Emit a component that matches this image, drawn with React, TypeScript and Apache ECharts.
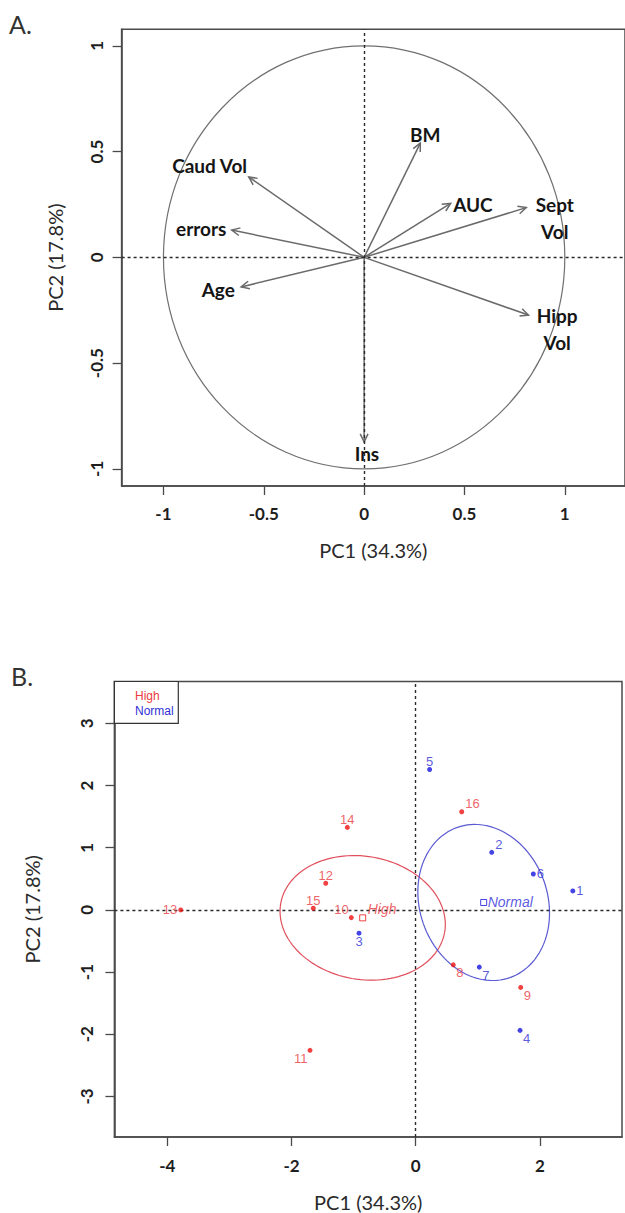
import React, { useEffect, useRef } from "react";
import * as echarts from "echarts";

// ---------- Panel A: variable loadings ----------
const varNames = ["BM", "Caud Vol", "AUC", "Sept\nVol", "errors", "Age", "Hipp\nVol", "Ins"];
const loadPC1 = [0.28, -0.575, 0.431, 0.808, -0.66, -0.613, 0.819, 0.0];
const loadPC2 = [0.54, 0.38, 0.255, 0.235, 0.129, -0.14, -0.273, -0.873];
const labelPC1 = [0.304, -0.77, 0.542, 0.95, -0.812, -0.727, 0.962, 0.014];
const labelPC2 = [0.583, 0.436, 0.252, 0.186, 0.134, -0.15, -0.339, -0.925];
const loadTicks = [-1, -0.5, 0, 0.5, 1];

// ---------- Panel B: sample scores ----------
const sampleIds = ["1", "2", "3", "4", "5", "6", "7", "8", "9", "10", "11", "12", "13", "14", "15", "16"];
const scorePC1 = [2.53, 1.224, -0.913, 1.68, 0.224, 1.894, 1.024, 0.605, 1.691, -1.037, -1.702, -1.449, -3.784, -1.101, -1.649, 0.741];
const scorePC2 = [0.305, 0.926, -0.374, -1.937, 2.258, 0.578, -0.92, -0.883, -1.247, -0.124, -2.258, 0.429, 0.0, 1.327, 0.027, 1.578];
const sampleGroup = ["Normal", "Normal", "Normal", "Normal", "Normal", "Normal", "Normal", "High", "High", "High", "High", "High", "High", "High", "High", "High"];
const labelDir = ["r", "tr", "b", "br", "t", "r", "br", "br", "br", "tl", "bl", "t", "l", "t", "t", "tr"];
const groups = ["High", "Normal"];
const ellipseA = [1.34, 1.28];
const ellipseB = [0.99, 1.03];
const ellipseAngle = [-10, -70.7];
const scoreTicksX = [-4, -2, 0, 2];
const scoreTicksY = [-3, -2, -1, 0, 1, 2, 3];

const groupDot: Record<string, string> = { High: "#ee1111", Normal: "#1414e0" };
const groupText: Record<string, string> = { High: "#ea3a3f", Normal: "#3030d6" };
const groupEllipse: Record<string, string> = { High: "#e0505c", Normal: "#5a5ad2" };

const LABEL_FONT = "Lato";
const PT_FONT = "Liberation Sans";

function dirLabel(d: string) {
  const m: Record<string, [string, number, number]> = {
    t: ["center", 0, -8],
    b: ["center", 0, 8],
    r: ["left", 3.5, 0],
    l: ["right", -3.5, 0],
    tr: ["left", 3.5, -8],
    tl: ["right", -2.5, -8],
    br: ["left", 3, 8],
    bl: ["right", -2.5, 8],
  };
  const [align, dx, dy] = m[d];
  return { align, offset: [dx, dy] };
}

function mean(a: number[]) {
  return a.reduce((s, v) => s + v, 0) / a.length;
}

export default function App() {
  const ref = useRef<HTMLDivElement>(null);
  useEffect(() => {
    if (!ref.current) return;
    const chart = echarts.init(ref.current, null, { renderer: "svg" });

    const axisCommon = {
      axisLine: { show: true, onZero: false, lineStyle: { color: "#4a4a4a", width: 1.5 } },
      axisTick: { show: true, length: 9, lineStyle: { color: "#4a4a4a", width: 1.3 } },
      splitLine: { show: false },
      nameTextStyle: { fontFamily: LABEL_FONT, fontSize: 20, color: "#2a2a2a" },
    };
    const tickLabel = { fontFamily: LABEL_FONT, fontWeight: "bold", fontSize: 17, color: "#1e1e1e" };

    const dotted = {
      silent: true,
      symbol: "none",
      label: { show: false },
      lineStyle: { type: [3, 3], color: "#2a2a2a", width: 1.4 },
      data: [{ xAxis: 0 }, { yAxis: 0 }],
    };

    // group summaries
    const centers = groups.map((g) => {
      const idx = sampleIds.map((_, i) => i).filter((i) => sampleGroup[i] === g);
      return [mean(idx.map((i) => scorePC1[i])), mean(idx.map((i) => scorePC2[i]))];
    });

    const scatterSeries = groups.map((g) => ({
      type: "scatter",
      name: g,
      xAxisIndex: 1,
      yAxisIndex: 1,
      symbol: "circle",
      symbolSize: 5,
      itemStyle: { color: groupDot[g] },
      z: 5,
      data: sampleIds
        .map((id, i) => ({ id, i }))
        .filter((o) => sampleGroup[o.i] === g)
        .map((o) => {
          const dl = dirLabel(labelDir[o.i]);
          return {
            value: [scorePC1[o.i], scorePC2[o.i]],
            label: {
              show: true,
              formatter: o.id,
              position: "inside",
              align: dl.align,
              verticalAlign: "middle",
              offset: dl.offset,
              fontFamily: PT_FONT,
              fontSize: 13,
              color: groupText[g],
            },
          };
        }),
    }));

    const option: any = {
      animation: false,
      backgroundColor: "#ffffff",
      grid: [
        { left: 121.6, top: 29.3, width: 528, height: 456.7, show: true, borderColor: "#4a4a4a", borderWidth: 1.5, backgroundColor: "transparent" },
        { left: 114.4, top: 681.5, width: 507.6, height: 456.2, show: true, borderColor: "#4a4a4a", borderWidth: 1.5, backgroundColor: "transparent" },
      ],
      xAxis: [
        {
          ...axisCommon,
          type: "value",
          gridIndex: 0,
          min: -1.2086,
          max: 1.3,
          axisTick: { ...axisCommon.axisTick, customValues: loadTicks },
          axisLabel: { ...tickLabel, margin: 19, customValues: loadTicks, formatter: (v: number) => String(v) },
          name: "PC1 (34.3%)",
          nameLocation: "middle",
          nameGap: 54,
        },
        {
          ...axisCommon,
          type: "value",
          gridIndex: 1,
          min: -4.852,
          max: 3.322,
          axisTick: { ...axisCommon.axisTick, customValues: scoreTicksX },
          axisLabel: { ...tickLabel, margin: 20, customValues: scoreTicksX, formatter: (v: number) => String(v) },
          name: "PC1 (34.3%)",
          nameLocation: "middle",
          nameGap: 55,
        },
      ],
      yAxis: [
        {
          ...axisCommon,
          type: "value",
          gridIndex: 0,
          min: -1.081,
          max: 1.078,
          axisTick: { ...axisCommon.axisTick, customValues: loadTicks },
          axisLabel: { ...tickLabel, margin: 17, rotate: 90, customValues: loadTicks, formatter: (v: number) => String(v) },
          name: "PC2 (17.8%)",
          nameLocation: "middle",
          nameGap: 57,
        },
        {
          ...axisCommon,
          type: "value",
          gridIndex: 1,
          min: -3.652,
          max: 3.673,
          axisTick: { ...axisCommon.axisTick, customValues: scoreTicksY },
          axisLabel: { ...tickLabel, margin: 19, rotate: 90, customValues: scoreTicksY, formatter: (v: number) => String(v) },
          name: "PC2 (17.8%)",
          nameLocation: "middle",
          nameGap: 72,
        },
      ],
      series: [
        // unit circle (correlation circle)
        {
          type: "custom",
          xAxisIndex: 0,
          yAxisIndex: 0,
          clip: false,
          silent: true,
          data: [[0, 0]],
          renderItem: (params: any, api: any) => {
            const c = api.coord([0, 0]);
            const s = api.size([1, 1]);
            return {
              type: "ellipse",
              shape: { cx: c[0], cy: c[1], rx: s[0], ry: s[1] },
              style: { fill: "none", stroke: "#707070", lineWidth: 1.2 },
            };
          },
          markLine: dotted,
        },
        // loading arrows
        {
          type: "custom",
          xAxisIndex: 0,
          yAxisIndex: 0,
          clip: false,
          silent: true,
          z: 4,
          data: varNames.map((_, i) => [loadPC1[i], loadPC2[i]]),
          renderItem: (params: any, api: any) => {
            const i = params.dataIndex;
            const o = api.coord([0, 0]);
            const t = api.coord([api.value(0), api.value(1)]);
            const ang = Math.atan2(t[1] - o[1], t[0] - o[0]);
            const L = 9;
            const A = Math.PI / 7;
            const p1 = [t[0] - L * Math.cos(ang - A), t[1] - L * Math.sin(ang - A)];
            const p2 = [t[0] - L * Math.cos(ang + A), t[1] - L * Math.sin(ang + A)];
            const lp = api.coord([labelPC1[i], labelPC2[i]]);
            return {
              type: "group",
              children: [
                { type: "line", shape: { x1: o[0], y1: o[1], x2: t[0], y2: t[1] }, style: { stroke: "#6a6a6a", lineWidth: 1.5 } },
                { type: "polyline", shape: { points: [p1, t, p2] }, style: { stroke: "#6a6a6a", lineWidth: 1.5, fill: "none" } },
                {
                  type: "text",
                  x: lp[0],
                  y: lp[1],
                  style: {
                    text: varNames[i],
                    fill: "#151515",
                    fontFamily: LABEL_FONT,
                    fontWeight: "bold",
                    fontSize: 19,
                    lineHeight: 27,
                    align: "center",
                    verticalAlign: "middle",
                  },
                },
              ],
            };
          },
        },
        // group ellipses
        {
          type: "custom",
          xAxisIndex: 1,
          yAxisIndex: 1,
          clip: false,
          silent: true,
          data: groups.map((g, i) => [centers[i][0], centers[i][1]]),
          renderItem: (params: any, api: any) => {
            const i = params.dataIndex;
            const cx = api.value(0);
            const cy = api.value(1);
            const th = (ellipseAngle[i] * Math.PI) / 180;
            const pts: number[][] = [];
            for (let k = 0; k <= 120; k++) {
              const t = (k / 120) * Math.PI * 2;
              const u = ellipseA[i] * Math.cos(t);
              const v = ellipseB[i] * Math.sin(t);
              pts.push(api.coord([cx + u * Math.cos(th) - v * Math.sin(th), cy + u * Math.sin(th) + v * Math.cos(th)]));
            }
            return {
              type: "polyline",
              shape: { points: pts },
              style: { fill: "none", stroke: groupEllipse[groups[i]], lineWidth: 1.2 },
            };
          },
          markLine: dotted,
        },
        ...scatterSeries,
        // group centroids
        {
          type: "scatter",
          xAxisIndex: 1,
          yAxisIndex: 1,
          symbol: "rect",
          symbolSize: 6,
          z: 6,
          data: groups.map((g, i) => ({
            value: centers[i],
            itemStyle: { color: "#ffffff", borderColor: groupDot[g], borderWidth: 1 },
            label: {
              show: true,
              formatter: g,
              position: "inside",
              align: "left",
              verticalAlign: "middle",
              offset: g === "High" ? [5, -9] : [4, 0],
              fontFamily: PT_FONT,
              fontStyle: "italic",
              fontSize: 14,
              color: groupText[g],
            },
          })),
        },
      ],
      graphic: [
        { type: "text", x: 9, y: 24, style: { text: "A.", fontFamily: LABEL_FONT, fontSize: 25, fill: "#333", verticalAlign: "middle" } },
        { type: "text", x: 11, y: 676, style: { text: "B.", fontFamily: LABEL_FONT, fontSize: 25, fill: "#333", verticalAlign: "middle" } },
        {
          type: "rect",
          z: 20,
          shape: { x: 114.4, y: 681.5, width: 63.9, height: 41.8 },
          style: { fill: "#ffffff", stroke: "#333", lineWidth: 1.2 },
        },
        { type: "text", z: 21, x: 135, y: 696, style: { text: groups[0], fill: groupText.High, fontFamily: PT_FONT, fontSize: 12, verticalAlign: "middle" } },
        { type: "text", z: 21, x: 135, y: 710.5, style: { text: groups[1], fill: groupText.Normal, fontFamily: PT_FONT, fontSize: 12, verticalAlign: "middle" } },
      ],
    };

    chart.setOption(option);
    return () => chart.dispose();
  }, []);

  return (
    <div
      ref={ref}
      style={{ position: "absolute", left: 0, top: 0, width: 625, height: 1213, background: "#fff" }}
    />
  );
}
